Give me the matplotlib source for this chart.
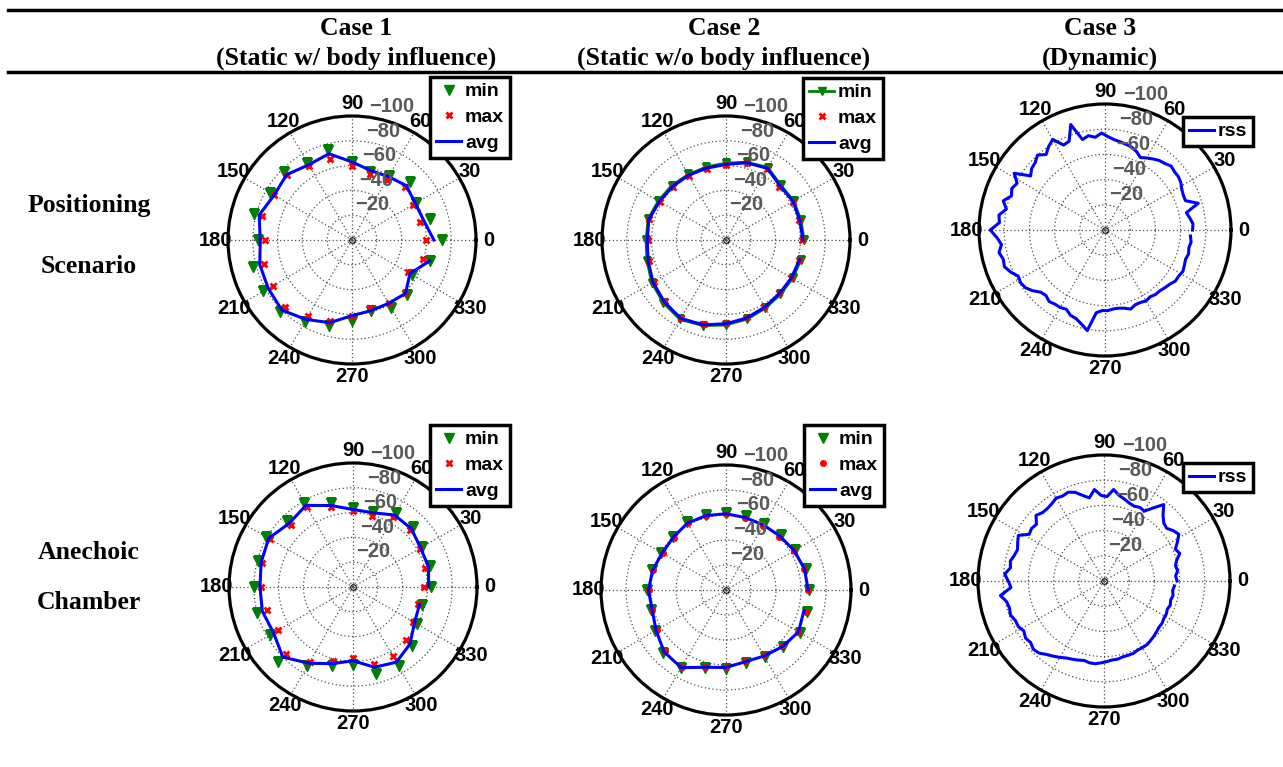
import numpy as np
import matplotlib
matplotlib.use("Agg")
import matplotlib.pyplot as plt
from matplotlib.lines import Line2D

# Angles of the static measurements (deg) and of the dynamic trace
ang15 = np.arange(0, 360, 15)
ang4 = np.arange(0, 360, 4)

# Case 1, positioning scenario (RSS in dBm)
c1p_min = [-72.4, -65, -60, -66, -60, -57, -63, -75, -72, -77, -76, -82,
           -76, -83, -83, -82, -76, -72, -65, -59.5, -63, -63, -56, -65]
c1p_max = [-60, -57, -57, -60, -56, -55, -59.5, -68, -69, -74, -72.5, -75,
           -70, -73.5, -73.5, -76, -71, -68, -61, -57, -59, -60, -52, -59]
c1p_avg = [-66, -60, -59, -62, -59, -58, -63, -72, -70, -74.5, -72.5, -77.5,
           -74, -77, -78, -80, -74, -69, -61, -59, -59, -61, -54, -65]

# Case 2, positioning scenario
c2p_min = [-63, -62.5, -63, -62.5, -67.5, -65, -62, -61, -61, -62, -63, -65,
           -64.5, -66, -69, -71.5, -74, -71.5, -68.5, -66, -63.5, -62, -62, -62.5]
c2p_max = [-61.5, -61, -62, -61, -66, -64, -60.5, -59.5, -59.5, -60.5, -61.5, -64,
           -63, -64.5, -67.5, -70, -72.5, -70, -67, -64.5, -62, -60.5, -60.5, -61]
c2p_avg = [-62, -61.6, -62.4, -61.7, -66.7, -64.5, -61, -60, -60.3, -61, -62, -64.4,
           -63.5, -65, -68, -70.5, -73, -70.8, -67.6, -65, -62.5, -61, -61, -61.4]

# Case 1, anechoic chamber
c1a_min = [-63, -64, -64.6, -68, -69, -62.5, -64, -70, -78.5, -75, -81, -79.5,
           -80, -80, -77, -85, -73.5, -66, -62.7, -73, -73.5, -67, -59.6, -57.6]
c1a_max = [-57, -60, -62, -65, -65, -59.5, -61.6, -67, -74.6, -71, -77, -76,
           -74, -72, -70, -76.5, -69.5, -61.6, -57.6, -64.4, -64, -61, -56, -54]
c1a_avg = [-61, -63, -63, -66.5, -67, -62, -62.5, -68, -76, -72.7, -78.5, -76.7,
           -75, -75.7, -74, -80, -71, -64, -59.5, -67, -70, -65, -57.3, -55.5]

# Case 2, anechoic chamber
c2a_min = [-66.5, -66, -64, -62, -61, -61, -62, -62.5, -62.5, -60.5, -60, -61.5,
           -63, -62, -65.5, -71, -72.5, -65, -63, -60.5, -62, -65, -68, -67.3]
c2a_max = [-65.5, -64.5, -62.5, -60.5, -59.5, -59.5, -60.5, -61, -61.5, -59, -58.5, -60.5,
           -61.5, -61, -64, -69.5, -71, -63.5, -61.5, -59, -60.5, -63.5, -66.5, -66.5]
c2a_avg = [-65.7, -65, -63, -61, -60, -60, -61, -61.6, -61.8, -59.6, -59, -60.8,
           -62, -61.2, -64.6, -70, -71.7, -64, -62, -59.4, -61, -64, -67, -64.5]

# Case 3 (dynamic), rss trace every 4 deg
c3p_rss = [-69.5, -70, -68, -66, -77, -68, -68, -69, -71, -72, -72, -73,
           -71, -70, -68, -66, -64, -67, -69, -70, -71, -72, -74, -77,
           -74, -76, -74, -88, -76, -75, -83, -80, -76, -80, -77, -76,
           -73, -85, -79, -81, -79, -84, -80, -85, -84, -91, -86, -83,
           -86, -84, -85, -82, -78, -79, -78, -75, -71, -70, -72, -71,
           -71, -70, -73, -74, -77, -81, -66, -64, -64, -63, -63, -64,
           -66, -64, -64, -65, -64, -65, -65, -66, -67, -69, -69, -70,
           -69, -68, -69, -68, -69, -68]
c3a_rss = [-58, -57, -59, -58, -60, -64, -62, -66, -70, -68, -65, -66,
           -70, -77, -70, -64, -65, -64, -65, -67, -69, -73, -67, -68,
           -73, -67, -70, -74, -76, -75, -76, -74, -73, -73, -75, -70,
           -71, -70, -77, -75, -73, -74, -76, -75, -79, -76, -74, -83,
           -79, -78, -79, -77, -77, -75, -77, -76, -78, -77, -74, -72,
           -70, -68, -67, -66, -65, -66, -66, -65, -64, -63, -63, -62,
           -62, -62, -61, -61, -61, -60, -59, -58, -57, -57, -56, -56,
           -55, -56, -55, -56, -55, -56]

col_titles = ["Case 1\n(Static w/ body influence)",
              "Case 2\n(Static w/o body influence)",
              "Case 3\n(Dynamic)"]
row_titles = [["Positioning", "Scenario"], ["Anechoic", "Chamber"]]

W, H = 1283, 767
fig = plt.figure(figsize=(W / 100, H / 100), dpi=100)
fig.patch.set_facecolor("white")

SANS = "Liberation Sans"
SERIF = "Liberation Serif"


def polar_panel(cx, cy, R):
    ax = fig.add_axes([(cx - R) / W, 1 - (cy + R) / H, 2 * R / W, 2 * R / H],
                      projection="polar")
    ax.set_ylim(0, 100)
    ax.set_xticks(np.deg2rad(np.arange(0, 360, 30)))
    ax.set_yticks([20, 40, 60, 80])
    ax.set_xticklabels([])
    ax.set_yticklabels([])
    ax.tick_params(length=0)
    ax.grid(True, color="0.3", linestyle=(0, (1, 2)), linewidth=0.9)
    ax.spines["polar"].set_linewidth(2.3)
    ax.plot([0], [0], marker="o", ms=4, mfc="none", mec="k", mew=0.8)
    for a in range(0, 360, 30):
        ax.text(np.deg2rad(a), 110, str(a), ha="center", va="center",
                fontsize=14.5, fontweight="bold", family=SANS)
    for v in [20, 40, 60, 80, 100]:
        ax.text(np.deg2rad(82), v + 1, "\u2212%d" % v, ha="left", va="bottom",
                fontsize=14.5, fontweight="bold", family=SANS, color="0.35")
    return ax


def add_legend(ax, right, top):
    leg = ax.legend(loc="upper right", bbox_to_anchor=(right / W, 1 - top / H),
                    bbox_transform=fig.transFigure, borderaxespad=0,
                    fancybox=False, framealpha=1, edgecolor="k", numpoints=1,
                    handlelength=1.3, handletextpad=0.2, borderpad=0.3,
                    labelspacing=0.42, prop={"family": SANS, "weight": "bold", "size": 14})
    leg.get_frame().set_linewidth(2.5)
    leg.set_zorder(20)


th15 = np.deg2rad(ang15)
th4 = np.deg2rad(ang4)

# Case 1 positioning
ax = polar_panel(352, 240, 124)
ax.plot(th15, -np.array(c1p_min), "v", color="green", ms=7, label="min")
ax.plot(th15, -np.array(c1p_max), "x", color="red", ms=5, mew=2, label="max")
ax.plot(th15, -np.array(c1p_avg), "-", color="blue", lw=2.2, label="avg")
add_legend(ax, 510, 77)

# Case 2 positioning
ax = polar_panel(726, 240, 124)
ax.plot(th15, -np.array(c2p_min), "-v", color="green", ms=6, lw=2, label="min")
ax.plot(th15, -np.array(c2p_max), "x", color="red", ms=5, mew=2, label="max")
ax.plot(th15, -np.array(c2p_avg), "-", color="blue", lw=2.2, label="avg")
add_legend(ax, 883, 78)

# Case 3 positioning
ax = polar_panel(1105, 230, 126)
ax.plot(th4, -np.array(c3p_rss), "-", color="blue", lw=2.2, label="rss")
add_legend(ax, 1253, 117)

# Case 1 anechoic
ax = polar_panel(353, 587, 124)
ax.plot(th15, -np.array(c1a_min), "v", color="green", ms=7, label="min")
ax.plot(th15, -np.array(c1a_max), "x", color="red", ms=5, mew=2, label="max")
ax.plot(th15, -np.array(c1a_avg), "-", color="blue", lw=2.2, label="avg")
add_legend(ax, 510, 425)

# Case 2 anechoic
ax = polar_panel(726, 590, 125)
ax.plot(th15, -np.array(c2a_min), "v", color="green", ms=7, label="min")
ax.plot(th15, -np.array(c2a_max), ".", color="red", ms=8, label="max")
ax.plot(th15, -np.array(c2a_avg), "-", color="blue", lw=2.2, label="avg")
add_legend(ax, 884, 425)

# Case 3 anechoic
ax = polar_panel(1104, 581, 126)
ax.plot(th4, -np.array(c3a_rss), "-", color="blue", lw=2.2, label="rss")
add_legend(ax, 1253, 463)

# Table rules and headings
for y in [10, 72]:
    fig.add_artist(Line2D([8 / W, 1], [1 - y / H, 1 - y / H], transform=fig.transFigure,
                          color="k", lw=2.5))
for x, t in zip([356, 724, 1100], col_titles):
    top, bottom = t.split("\n")
    fig.text(x / W, 1 - 35 / H, top, ha="center", va="baseline",
             fontsize=18.5, fontweight="bold", family=SERIF)
    fig.text(x / W, 1 - 65 / H, bottom, ha="center", va="baseline",
             fontsize=18.5, fontweight="bold", family=SERIF)
for (l1, l2), (y1, y2) in zip(row_titles, [(212, 273), (559, 609)]):
    fig.text(89 / W, 1 - y1 / H, l1, ha="center", va="baseline",
             fontsize=18.5, fontweight="bold", family=SERIF)
    fig.text(89 / W, 1 - y2 / H, l2, ha="center", va="baseline",
             fontsize=18.5, fontweight="bold", family=SERIF)

fig.savefig("out.png", dpi=100, facecolor="white")
